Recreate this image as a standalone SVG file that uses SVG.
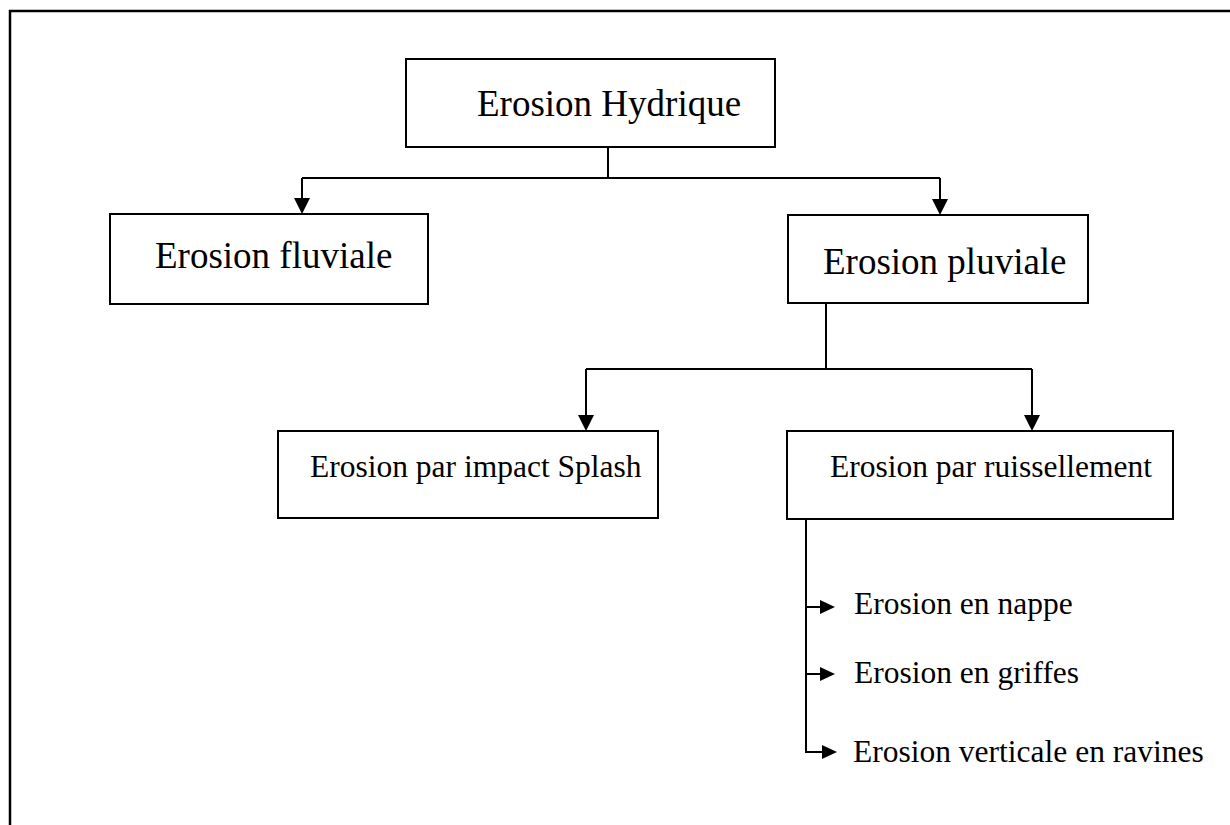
<svg xmlns="http://www.w3.org/2000/svg" width="1230" height="825" viewBox="0 0 1230 825">
<style>
.box{fill:#fff;stroke:#000;stroke-width:2}
.big{font-family:"Liberation Serif","Times New Roman",serif;font-size:37px;fill:#000}
.sm{font-family:"Liberation Serif","Times New Roman",serif;font-size:31.5px;fill:#000}
.ln{fill:none;stroke:#000;stroke-width:2}
.ah{fill:#000}
</style>
<rect width="1230" height="825" fill="#fff"/>
<rect x="10" y="11" width="1240" height="840" fill="none" stroke="#000" stroke-width="2.5"/>
<g id="connectors">
<path class="ln" d="M608 147V178M302 178H940M302 178V200M940 178V200"/>
<polygon class="ah" points="294,198 310,198 302,214"/>
<polygon class="ah" points="932,199 948,199 940,215"/>
<path class="ln" d="M826 303V369M586 369H1032M586 369V416M1032 369V416"/>
<polygon class="ah" points="578,415 594,415 586,431"/>
<polygon class="ah" points="1024,415 1040,415 1032,431"/>
<path class="ln" d="M806 519V752H824M806 607H822M806 674H822"/>
<polygon class="ah" points="820,600 820,614 835,607"/>
<polygon class="ah" points="820,667 820,681 835,674"/>
<polygon class="ah" points="822,745 822,759 837,752"/>
</g>
<g id="n-hydrique">
<rect class="box" x="406" y="59" width="369" height="88"/>
<text class="big" x="477" y="116">Erosion Hydrique</text>
</g>
<g id="n-fluviale">
<rect class="box" x="110" y="214" width="318" height="90"/>
<text class="big" x="155" y="268">Erosion fluviale</text>
</g>
<g id="n-pluviale">
<rect class="box" x="788" y="215" width="300" height="88"/>
<text class="big" x="823" y="274">Erosion pluviale</text>
</g>
<g id="n-splash">
<rect class="box" x="278" y="431" width="380" height="87"/>
<text class="sm" x="310" y="477">Erosion par impact Splash</text>
</g>
<g id="n-ruissellement">
<rect class="box" x="787" y="431" width="386" height="88"/>
<text class="sm" x="830" y="477">Erosion par ruissellement</text>
</g>
<g id="n-nappe">
<text class="sm" x="854" y="614">Erosion en nappe</text>
</g>
<g id="n-griffes">
<text class="sm" x="854" y="683">Erosion en griffes</text>
</g>
<g id="n-ravines">
<text class="sm" x="853" y="762">Erosion verticale en ravines</text>
</g>
</svg>
